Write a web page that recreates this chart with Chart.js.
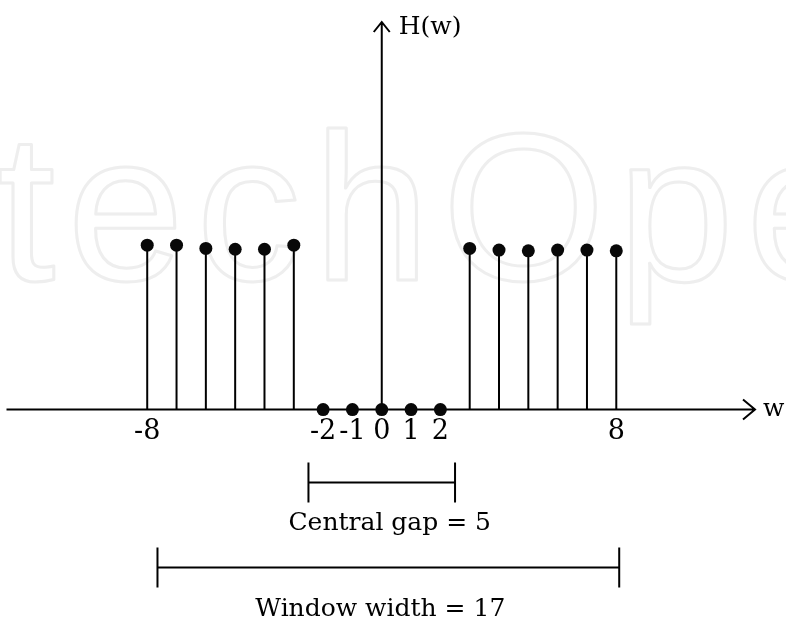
<!DOCTYPE html>
<html lang="en">

<head>
    <meta charset="UTF-8">
    <title>H(w) window</title>
    <style>
        html, body { margin: 0; padding: 0; background: #fff; }
        #wrap { width: 786px; height: 618px; }
    </style>
</head>

<body>
    <div id="wrap">
        <canvas id="myChart01"></canvas>
    </div>
</body>
<script src="https://cdn.jsdelivr.net/npm/chart.js"></script>
<script>
    // sample index w and the response H(w)
    var wValues = [-8, -7, -6, -5, -4, -3, -2, -1, 0, 1, 2, 3, 4, 5, 6, 7, 8];
    var hValues = [1.01, 1.01, 0.99, 0.985, 0.985, 1.01, 0, 0, 0, 0, 0, 0.99, 0.98, 0.975, 0.98, 0.98, 0.975];
    var tickValues = [-8, -2, -1, 0, 1, 2, 8];
    // the two brackets under the axis (in w units)
    var gapSpan = [-2.5, 2.5];
    var windowSpan = [-7.65, 8.1];
    var gapLabel = 'Central gap = 5';
    var windowLabel = 'Window width = 17';
    var yLabel = 'H(w)';
    var xLabel = 'w';

    var serif = '"DejaVu Serif", "Liberation Serif", serif';

    var stemPlugin = {
        id: 'stems',
        beforeDraw: function (chart) {
            // faint outlined watermark behind everything
            var ctx = chart.ctx;
            ctx.save();
            ctx.font = '210px "Liberation Sans", Arial, sans-serif';
            ctx.letterSpacing = '12px';
            ctx.strokeStyle = '#eeeeee';
            ctx.lineWidth = 3;
            ctx.lineJoin = 'round';
            ctx.textBaseline = 'alphabetic';
            ctx.strokeText('techOpen', -3, 280);
            ctx.restore();
        },
        beforeDatasetsDraw: function (chart) {
            var ctx = chart.ctx;
            var xs = chart.scales.x, ys = chart.scales.y;
            var y0 = ys.getPixelForValue(0);
            var x0 = xs.getPixelForValue(0);
            var left = chart.chartArea.left, tip = chart.chartArea.right - 2;
            ctx.save();
            ctx.strokeStyle = '#000';
            ctx.lineWidth = 2;
            // horizontal axis with arrow
            ctx.beginPath();
            ctx.moveTo(left, y0);
            ctx.lineTo(tip, y0);
            ctx.moveTo(tip - 12, y0 - 10);
            ctx.lineTo(tip, y0);
            ctx.lineTo(tip - 12, y0 + 10);
            ctx.stroke();
            // vertical axis with arrow
            var top = chart.chartArea.top + 2;
            ctx.beginPath();
            ctx.moveTo(x0, y0);
            ctx.lineTo(x0, top);
            ctx.moveTo(x0 - 8, top + 10);
            ctx.lineTo(x0, top);
            ctx.lineTo(x0 + 8, top + 10);
            ctx.stroke();
            // stems
            var meta = chart.getDatasetMeta(0);
            meta.data.forEach(function (pt, i) {
                if (hValues[i] == 0) return;
                ctx.beginPath();
                ctx.moveTo(pt.x, pt.y);
                ctx.lineTo(pt.x, y0);
                ctx.stroke();
            });
            // axis names
            ctx.fillStyle = '#000';
            ctx.font = '25px ' + serif;
            ctx.textBaseline = 'alphabetic';
            ctx.textAlign = 'left';
            ctx.fillText(yLabel, x0 + 17, top + 12);
            ctx.fillText(xLabel, tip + 8, y0 + 6);
            ctx.restore();
        },
        afterDraw: function (chart) {
            var ctx = chart.ctx;
            var xs = chart.scales.x, ys = chart.scales.y;
            var y0 = ys.getPixelForValue(0);
            ctx.save();
            ctx.strokeStyle = '#000';
            ctx.fillStyle = '#000';
            ctx.lineWidth = 2;

            function bracket(span, y, label, textY, shift) {
                var a = xs.getPixelForValue(span[0]);
                var b = xs.getPixelForValue(span[1]);
                ctx.beginPath();
                ctx.moveTo(a, y - 20);
                ctx.lineTo(a, y + 20);
                ctx.moveTo(b, y - 20);
                ctx.lineTo(b, y + 20);
                ctx.moveTo(a, y);
                ctx.lineTo(b, y);
                ctx.stroke();
                ctx.font = '25px ' + serif;
                ctx.textAlign = 'center';
                ctx.textBaseline = 'alphabetic';
                ctx.fillText(label, (a + b) / 2 + shift, textY);
            }
            bracket(gapSpan, y0 + 73, gapLabel, y0 + 120, 8);
            bracket(windowSpan, y0 + 158, windowLabel, y0 + 206, -8);
            ctx.restore();
        }
    };

    var points = wValues.map(function (w, i) { return { x: w, y: hValues[i] }; });

    const ctx01 = document.getElementById('myChart01');
    var mychart01 = new Chart(ctx01, {
        type: 'scatter',
        data: {
            datasets: [{
                data: points,
                pointRadius: 6.5,
                pointBackgroundColor: '#080808',
                pointBorderWidth: 0,
                clip: false
            }, {
                data: points,
                pointRadius: 1.6,
                pointBackgroundColor: '#3f7cc4',
                pointBorderWidth: 0,
                clip: false
            }]
        },
        options: {
            responsive: true,
            maintainAspectRatio: false,
            animation: false,
            events: [],
            layout: {
                padding: { left: 5, right: 29, top: 20, bottom: 164 }
            },
            plugins: {
                legend: { display: false },
                tooltip: { enabled: false }
            },
            scales: {
                x: {
                    type: 'linear',
                    min: -12.8,
                    max: 12.8,
                    grid: { display: false, drawTicks: false },
                    border: { display: false },
                    afterBuildTicks: function (scale) {
                        scale.ticks = tickValues.map(function (v) { return { value: v }; });
                    },
                    ticks: {
                        padding: 6,
                        color: '#000',
                        font: { family: serif, size: 27 },
                        autoSkip: false,
                        maxRotation: 0
                    }
                },
                y: {
                    display: false,
                    min: 0,
                    max: 2.393
                }
            }
        },
        plugins: [stemPlugin]
    });
</script>

</html>
